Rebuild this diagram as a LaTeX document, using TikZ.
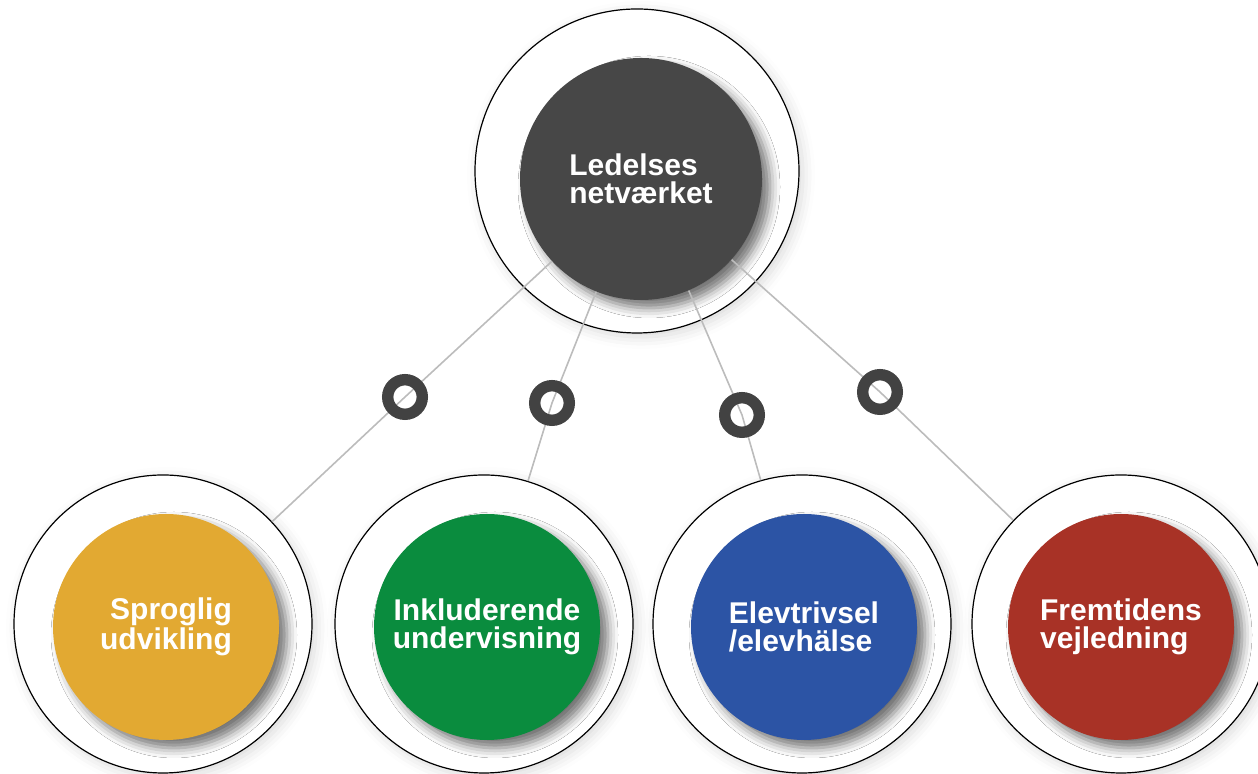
\documentclass[tikz,border=0pt]{standalone}
\usepackage{fontspec}
\setmainfont{Liberation Sans}
\usetikzlibrary{shadows.blur}
\definecolor{hubgray}{RGB}{71,71,71}
\definecolor{sproggold}{RGB}{226,169,50}
\definecolor{inklgreen}{RGB}{10,140,62}
\definecolor{trivselblue}{RGB}{44,84,165}
\definecolor{fremred}{RGB}{168,50,38}
\definecolor{ringgray}{RGB}{66,66,66}
\definecolor{linegray}{RGB}{188,188,188}
\tikzset{
  disk/.style={circle,draw=black,line width=0.6pt,fill=white,inner sep=0pt,
    blur shadow={shadow xshift=2pt,shadow yshift=-2pt,shadow blur radius=6pt,shadow opacity=15}},
  hub/.style={circle,inner sep=0pt,text=white,font=\fontsize{15}{14}\selectfont\bfseries,
    blur shadow={shadow xshift=4pt,shadow yshift=-4pt,shadow blur radius=5pt,shadow opacity=55}},
  ring/.style={circle,draw=ringgray,line width=5.7pt,minimum size=17.3pt,inner sep=0pt},
  link/.style={draw=linegray,line width=0.8pt}
}

\begin{document}
\begin{tikzpicture}[x=0.5pt,y=0.5pt]
    \useasboundingbox (0,0) rectangle (1258,774);
    \node[disk,minimum size=162pt] (ledelses-outer) at (637,603) {};
    \foreach \x/\n in {163/sprog,484/inkl,802/trivsel,1121/frem}
      \node[disk,minimum size=149pt] (\n-outer) at (\x,150) {};
    \node[hub,fill=hubgray,minimum size=121pt,align=left] (ledelses) at (641,595) {Ledelses\\netværket};
    \node[hub,fill=sproggold,minimum size=113pt,align=right] (sprog) at (166,147) {Sproglig\\udvikling};
    \node[hub,fill=inklgreen,minimum size=113pt,align=center] (inkl) at (487,147) {Inkluderende\\undervisning};
    \node[hub,fill=trivselblue,minimum size=113pt,align=left] (trivsel) at (804,147) {Elevtrivsel\\/elevhälse};
    \node[hub,fill=fremred,minimum size=113pt,align=left] (frem) at (1121,147) {Fremtidens\\vejledning};
    \coordinate (ksprog) at (405,377);
    \coordinate (kinkl) at (552,371);
    \coordinate (ktrivsel) at (742,359);
    \coordinate (kfrem) at (880,382);
    \foreach \n in {sprog,inkl,trivsel,frem}
      \draw[link] (ledelses) -- (k\n) -- (\n-outer);
    \foreach \n in {sprog,inkl,trivsel,frem}
      \node[ring] (r\n) at (k\n) {};
  \end{tikzpicture}
\end{document}
